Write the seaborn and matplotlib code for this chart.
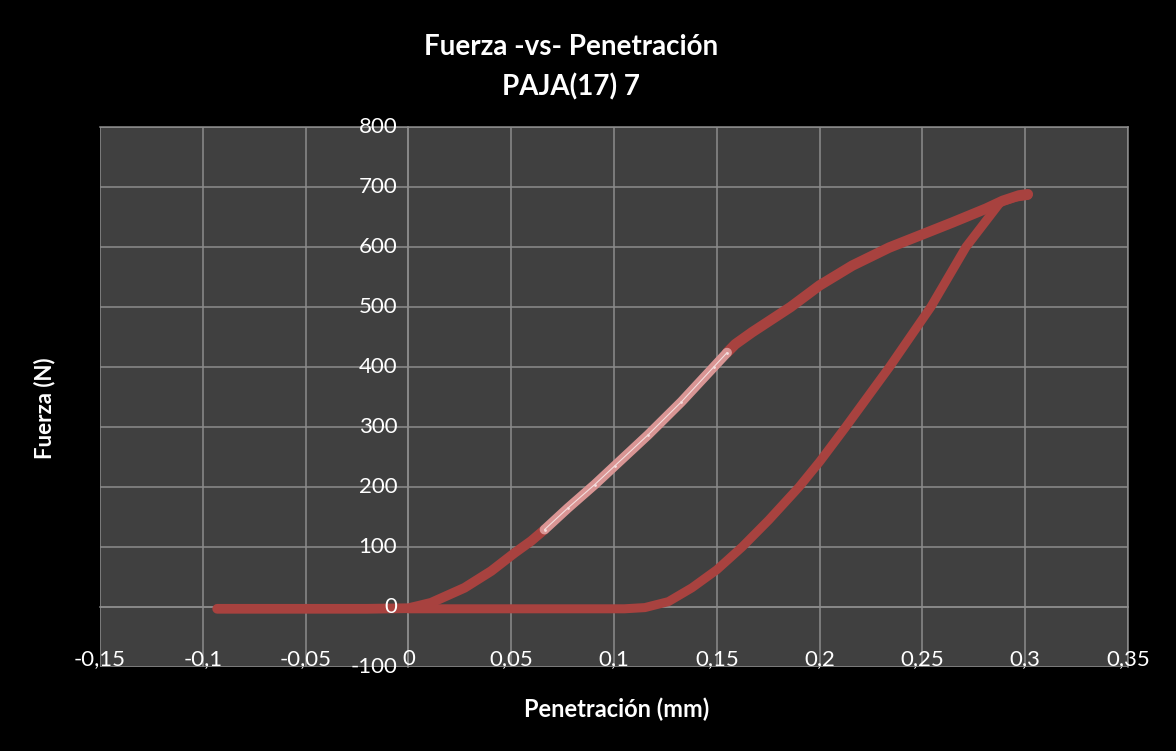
import matplotlib
matplotlib.use('Agg')
import matplotlib.pyplot as plt
import matplotlib.transforms as mtransforms
import seaborn as sns

# datos (penetracion en mm, fuerza en N)
carga_x = [-0.093, -0.05, -0.02, 0.0, 0.005, 0.011, 0.0273, 0.0403, 0.0516, 0.0597, 0.0662]
carga_y = [-3, -3, -3, -2, 2, 7, 32, 60, 90, 110, 129]

tramo_x = [0.0662, 0.0776, 0.0906, 0.1003, 0.1166, 0.1328, 0.1485, 0.155]
tramo_y = [129, 165, 204, 235, 287, 342, 400, 424]

sup_x = [0.155, 0.159, 0.1672, 0.1859, 0.2, 0.2159, 0.2338, 0.25, 0.2647, 0.281,
         0.2891, 0.297, 0.3013]
sup_y = [424, 438, 458, 500, 536, 569, 599, 621, 641, 664, 677, 686, 688]

desc_x = [0.3013, 0.295, 0.288, 0.2712, 0.2541, 0.234, 0.2127, 0.2, 0.19, 0.1753,
          0.1623, 0.15, 0.1379, 0.1265, 0.115, 0.105, 0.05, 0.0]
desc_y = [686, 683, 675, 600, 500, 400, 300, 242, 200, 145, 100, 62, 32, 9, -1, -3, -3, -3]

xticks = [-0.15, -0.1, -0.05, 0, 0.05, 0.1, 0.15, 0.2, 0.25, 0.3, 0.35]
xlabels = ['-0,15', '-0,1', '-0,05', '0', '0,05', '0,1', '0,15', '0,2', '0,25', '0,3', '0,35']
yticks = [-100, 0, 100, 200, 300, 400, 500, 600, 700, 800]

sns.set_style('dark')
plt.rcParams['font.family'] = ['Lato', 'DejaVu Sans']

rojo = '#a8423f'
gris = '#8c8c8c'

fig = plt.figure(figsize=(11.76, 7.51), dpi=100, facecolor='black')
ax = fig.add_axes([100/1176, 1 - 667/751, 1028/1176, 540/751])
ax.set_facecolor('#404040')

sns.lineplot(x=carga_x, y=carga_y, sort=False, estimator=None, color=rojo,
             linewidth=7, solid_capstyle='round', solid_joinstyle='round', ax=ax)
sns.lineplot(x=desc_x, y=desc_y, sort=False, estimator=None, color=rojo,
             linewidth=6.5, solid_capstyle='round', solid_joinstyle='round', ax=ax)
sns.lineplot(x=sup_x, y=sup_y, sort=False, estimator=None, color=rojo,
             linewidth=7.5, solid_capstyle='round', solid_joinstyle='round', ax=ax)
sns.lineplot(x=tramo_x, y=tramo_y, sort=False, estimator=None, color='#d99594',
             linewidth=7, solid_capstyle='round', solid_joinstyle='round', ax=ax)
sns.lineplot(x=tramo_x, y=tramo_y, sort=False, estimator=None, color='#f4dede',
             linewidth=0.8, marker='o', markersize=2, markeredgewidth=0, ax=ax)

ax.set_xlim(-0.15, 0.35)
ax.set_ylim(-100, 800)
ax.set_xticks(xticks)
ax.set_xticklabels(xlabels)
ax.set_yticks(yticks)
ax.set_yticklabels([])

ax.grid(True, color=gris, linewidth=1.1)
ax.set_axisbelow(True)

# ejes cruzando en 0 como en Excel
ax.spines['left'].set_position(('data', 0))
ax.spines['bottom'].set_position(('data', 0))
for s in ax.spines.values():
    s.set_visible(True)
    s.set_color(gris)
    s.set_linewidth(1.1)
    s.set_zorder(0.5)

ax.tick_params(axis='x', length=0, pad=30, labelsize=16, labelcolor='white')
ax.tick_params(axis='y', length=0)

# etiquetas del eje y encima de las lineas
desplaza = mtransforms.offset_copy(ax.transData, fig=fig, x=-8, y=0, units='points')
for v in yticks:
    ax.text(0, v, str(v), transform=desplaza, ha='right', va='center',
            color='white', fontsize=16, zorder=5, clip_on=False)

ax.set_xlabel('')
ax.set_ylabel('')

fig.text(571/1176, 1 - 47/751, 'Fuerza -vs- Penetración', color='white',
         fontsize=20, fontweight='bold', ha='center', va='center')
fig.text(571/1176, 1 - 87/751, 'PAJA(17) 7', color='white',
         fontsize=20, fontweight='bold', ha='center', va='center')
fig.text(617/1176, 1 - 709/751, 'Penetración (mm)', color='white',
         fontsize=17, fontweight='bold', ha='center', va='center')
fig.text(45/1176, 1 - 408/751, 'Fuerza (N)', color='white', rotation=90,
         fontsize=16, fontweight='bold', ha='center', va='center')

fig.savefig('out.png', dpi=100, facecolor='black')
